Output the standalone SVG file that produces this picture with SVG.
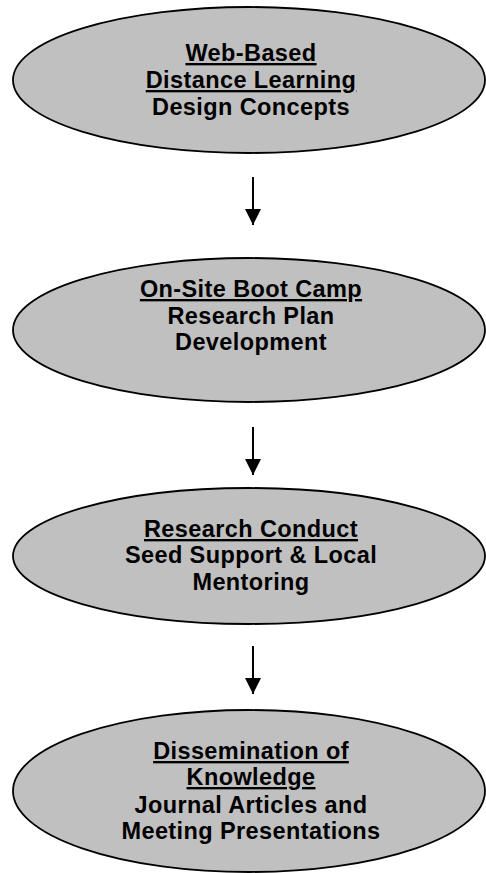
<svg xmlns="http://www.w3.org/2000/svg" width="486" height="873" viewBox="0 0 486 873">
<defs>
<style>
.node ellipse{fill:#c0c0c0;stroke:#000;stroke-width:1.8}
.node text{font-family:"Liberation Sans",Arial,sans-serif;font-weight:bold;font-size:23.5px;letter-spacing:0.4px;fill:#000;text-anchor:middle}
.u{text-decoration:underline;text-decoration-skip-ink:none}
.conn line{stroke:#000;stroke-width:2}
</style>
<marker id="ah" markerWidth="16" markerHeight="16" viewBox="0 0 16 16" refX="16" refY="8" orient="auto" markerUnits="userSpaceOnUse">
<path d="M0,0 L16,8 L0,16 Z" fill="#000"/>
</marker>
</defs>
<rect width="486" height="873" fill="#fff"/>
<g id="node1" class="node">
<ellipse cx="249" cy="80" rx="236" ry="73"/>
<text x="251" y="61" class="u">Web-Based</text>
<text x="251" y="88" class="u">Distance Learning</text>
<text x="251" y="115">Design Concepts</text>
</g>
<g id="node2" class="node">
<ellipse cx="249" cy="330" rx="236" ry="72"/>
<text x="251" y="297" class="u">On-Site Boot Camp</text>
<text x="251" y="324">Research Plan</text>
<text x="251" y="350">Development</text>
</g>
<g id="node3" class="node">
<ellipse cx="249" cy="556" rx="236" ry="68"/>
<text x="251" y="537" class="u">Research Conduct</text>
<text x="251" y="563">Seed Support &amp; Local</text>
<text x="251" y="590">Mentoring</text>
</g>
<g id="node4" class="node">
<ellipse cx="249" cy="791" rx="236" ry="81"/>
<text x="251" y="759" class="u">Dissemination of</text>
<text x="251" y="785" class="u">Knowledge</text>
<text x="251" y="813">Journal Articles and</text>
<text x="251" y="839">Meeting Presentations</text>
</g>
<g id="connectors" class="conn">
<line x1="253" y1="177" x2="253" y2="225" marker-end="url(#ah)"/>
<line x1="253" y1="427" x2="253" y2="475" marker-end="url(#ah)"/>
<line x1="253" y1="646" x2="253" y2="694" marker-end="url(#ah)"/>
</g>
</svg>
